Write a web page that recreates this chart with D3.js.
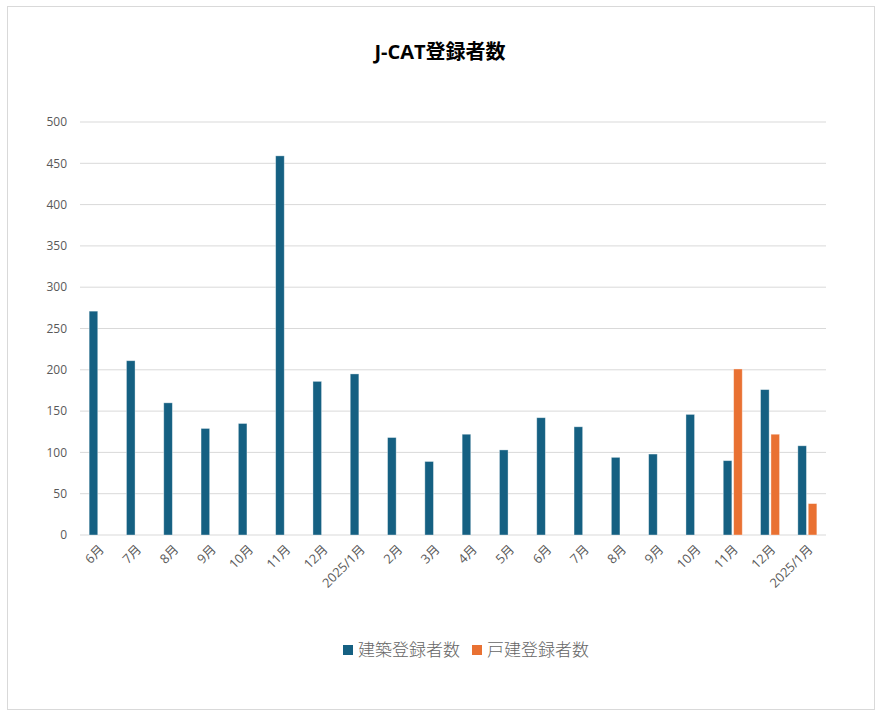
<!DOCTYPE html>
<html><head><meta charset="utf-8">
<script src="https://cdn.jsdelivr.net/npm/d3@7"></script>
<style>
body{margin:0;background:#fff;}
text{font-family:"Open Sans","Noto Sans CJK JP",sans-serif;}
</style></head>
<body><svg id="c" width="876" height="710"></svg>
<script>
const categories = ["6月","7月","8月","9月","10月","11月","12月","2025/1月","2月","3月","4月","5月","6月","7月","8月","9月","10月","11月","12月","2025/1月"];
const kenchiku = [271,211,160,129,135,459,186,195,118,89,122,103,142,131,94,98,146,90,176,108];
const kodate   = [null,null,null,null,null,null,null,null,null,null,null,null,null,null,null,null,null,201,122,38];
const seriesNames = ["建築登録者数","戸建登録者数"];
const colors = ["#156082","#E97132"];
const yTicks = [0,50,100,150,200,250,300,350,400,450,500];
const title = "J-CAT登録者数";

(function(){
const svg = d3.select("#c");
svg.append("rect").attr("x",7.5).attr("y",6.5).attr("width",867).attr("height",703)
  .attr("fill","#fff").attr("stroke","#d9d9d9");

const pL=80,pR=826,pT=122,pB=535;
const x = d3.scaleBand().domain(d3.range(categories.length)).range([pL,pR]);
const y = d3.scaleLinear().domain([0,500]).range([pB,pT]);
const bw = 8.6, gap = 1.8;

svg.append("g").selectAll("line").data(yTicks).join("line")
  .attr("x1",pL).attr("x2",pR).attr("y1",d=>y(d)).attr("y2",d=>y(d))
  .attr("stroke","#d9d9d9").attr("stroke-width",1);

svg.append("g").selectAll("text").data(yTicks).join("text")
  .attr("x",67).attr("y",d=>y(d)).attr("dy","0.35em").attr("text-anchor","end")
  .attr("font-size",12).attr("fill","#595959").text(d=>d);

const center = i => x(i)+x.bandwidth()/2;
const series=[kenchiku,kodate];
series.forEach((s,si)=>{
  svg.append("g").selectAll("rect").data(s.map((v,i)=>({v,i})).filter(d=>d.v!=null)).join("rect")
    .attr("x",d=> si===0 ? center(d.i)-gap/2-bw : center(d.i)+gap/2)
    .attr("width",bw)
    .attr("y",d=>y(d.v)).attr("height",d=>pB-y(d.v))
    .attr("fill",colors[si]).attr("stroke","rgba(255,255,255,0.45)").attr("stroke-width",0.8);
});

svg.append("g").selectAll("text").data(categories).join("text")
  .attr("transform",(d,i)=>`translate(${center(i)+3},${pB+12}) rotate(-45)`)
  .attr("text-anchor","end").attr("dy","0.35em")
  .attr("font-size",12.8).attr("fill","#595959").text(d=>d);

svg.append("text").attr("x",440).attr("y",59).attr("text-anchor","middle")
  .attr("font-size",20).attr("font-weight","bold").attr("fill","#000").text(title);

const lg = svg.append("g");
const lx=[343,472];
seriesNames.forEach((n,i)=>{
  lg.append("rect").attr("x",lx[i]).attr("y",645).attr("width",10).attr("height",10).attr("fill",colors[i]);
  lg.append("text").attr("x",lx[i]+15).attr("y",650).attr("dy","0.35em")
    .attr("font-size",17).attr("font-weight",300).attr("fill","#666").text(n);
});
})();
</script></body></html>
